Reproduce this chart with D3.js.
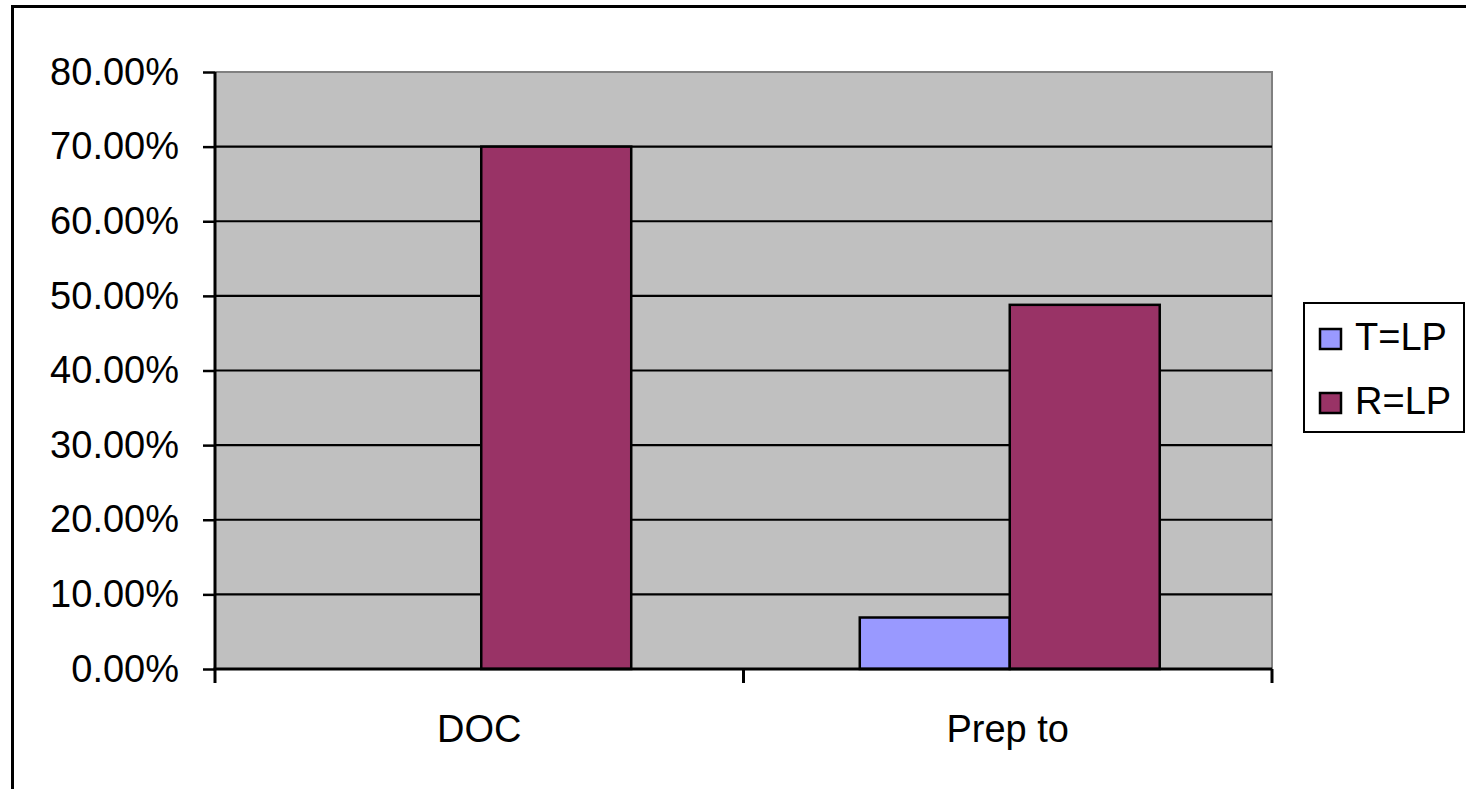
<!DOCTYPE html>
<html>
<head>
<meta charset="utf-8">
<script src="https://cdn.jsdelivr.net/npm/d3@7"></script>
<style>
  html, body { margin: 0; padding: 0; background: #fff; }
  svg { display: block; font-family: Arial, "Liberation Sans", sans-serif; }
</style>
</head>
<body>
<svg id="chart" width="1466" height="789"></svg>
<script>
// Categories, series and values (fractions)
const categories = ["DOC", "Prep to"];
const seriesNames = ["T=LP", "R=LP"];
const seriesColors = ["#9999ff", "#993366"];
const tLP = [0, 0.069];
const rLP = [0.70, 0.488];
const yTicks = [0, 0.1, 0.2, 0.3, 0.4, 0.5, 0.6, 0.7, 0.8];

const seriesValues = [tLP, rLP];
const rows = categories.map((c, i) => ({
  category: c,
  values: seriesNames.map((s, j) => ({ series: s, value: seriesValues[j][i], color: seriesColors[j] }))
}));

const svg = d3.select("#chart");
const plot = { left: 215, top: 72, right: 1272, bottom: 669 };

// Outer chart frame (right and bottom fall outside the view)
svg.append("rect")
  .attr("x", 12.5).attr("y", 6.5)
  .attr("width", 1480).attr("height", 820)
  .attr("fill", "none").attr("stroke", "#000").attr("stroke-width", 3);

const y = d3.scaleLinear().domain([0, 0.8]).range([plot.bottom, plot.top]);
const x0 = d3.scaleBand().domain(categories).range([plot.left, plot.right]).padding(0);
const gap = x0.bandwidth() * 0.22;
const x1 = d3.scaleBand().domain(seriesNames).range([gap, x0.bandwidth() - gap + 4]).padding(0);

// Plot area background
svg.append("rect")
  .attr("x", plot.left).attr("y", plot.top)
  .attr("width", plot.right - plot.left).attr("height", plot.bottom - plot.top)
  .attr("fill", "#c0c0c0");

// Top and right edges of the plot area
svg.append("path")
  .attr("d", `M${plot.left},${plot.top}H${plot.right}V${plot.bottom}`)
  .attr("fill", "none").attr("stroke", "#808080").attr("stroke-width", 2);

// Horizontal gridlines
svg.append("g")
  .selectAll("line")
  .data(yTicks.filter(t => t > 0 && t < 0.8))
  .join("line")
  .attr("x1", plot.left).attr("x2", plot.right)
  .attr("y1", d => y(d)).attr("y2", d => y(d))
  .attr("stroke", "#000").attr("stroke-width", 2.2);

// Bars
const groups = svg.append("g")
  .selectAll("g")
  .data(rows)
  .join("g")
  .attr("transform", d => `translate(${x0(d.category)},0)`);

groups.selectAll("rect")
  .data(d => d.values.filter(v => v.value > 0))
  .join("rect")
  .attr("x", d => x1(d.series))
  .attr("y", d => y(d.value))
  .attr("width", x1.bandwidth())
  .attr("height", d => y(0) - y(d.value))
  .attr("fill", d => d.color)
  .attr("stroke", "#000").attr("stroke-width", 2.5);

// Y axis
const yAxis = svg.append("g")
  .attr("transform", `translate(${plot.left},0)`)
  .call(d3.axisLeft(y).tickValues(yTicks).tickFormat(d3.format(".2%")).tickSize(12).tickPadding(24));
yAxis.select(".domain").attr("stroke", "#000").attr("stroke-width", 3).attr("d", `M0,${plot.top}V${plot.bottom}`);
yAxis.selectAll(".tick line").attr("stroke", "#000").attr("stroke-width", 2.5);
yAxis.selectAll(".tick text").attr("font-size", 38).attr("fill", "#000")
  .attr("font-family", "Arial, 'Liberation Sans', sans-serif");

// X axis
const xTickPositions = [plot.left, ...categories.map(c => x0(c) + x0.bandwidth())];
const xAxis = svg.append("g");
xAxis.append("line")
  .attr("x1", plot.left - 1.5).attr("x2", plot.right)
  .attr("y1", plot.bottom).attr("y2", plot.bottom)
  .attr("stroke", "#000").attr("stroke-width", 3);
xAxis.selectAll("line.tick")
  .data(xTickPositions)
  .join("line")
  .attr("class", "tick")
  .attr("x1", d => d).attr("x2", d => d)
  .attr("y1", plot.bottom).attr("y2", plot.bottom + 14)
  .attr("stroke", "#000").attr("stroke-width", 3);
xAxis.selectAll("text")
  .data(categories)
  .join("text")
  .attr("x", d => x0(d) + x0.bandwidth() / 2)
  .attr("y", 742)
  .attr("text-anchor", "middle")
  .attr("font-size", 38)
  .attr("fill", "#000")
  .text(d => d);

// Legend
const legend = svg.append("g");
legend.append("rect")
  .attr("x", 1304).attr("y", 303).attr("width", 160).attr("height", 129)
  .attr("fill", "#fff").attr("stroke", "#000").attr("stroke-width", 2);
const items = legend.selectAll("g.item")
  .data(seriesNames.map((s, i) => ({ name: s, color: seriesColors[i] })))
  .join("g")
  .attr("class", "item")
  .attr("transform", (d, i) => `translate(1320,${329 + i * 64})`);
items.append("rect")
  .attr("width", 21).attr("height", 20)
  .attr("fill", d => d.color).attr("stroke", "#000").attr("stroke-width", 2.5);
items.append("text")
  .attr("x", 35).attr("y", 21)
  .attr("font-size", 38)
  .attr("fill", "#000")
  .text(d => d.name);
</script>
</body>
</html>
